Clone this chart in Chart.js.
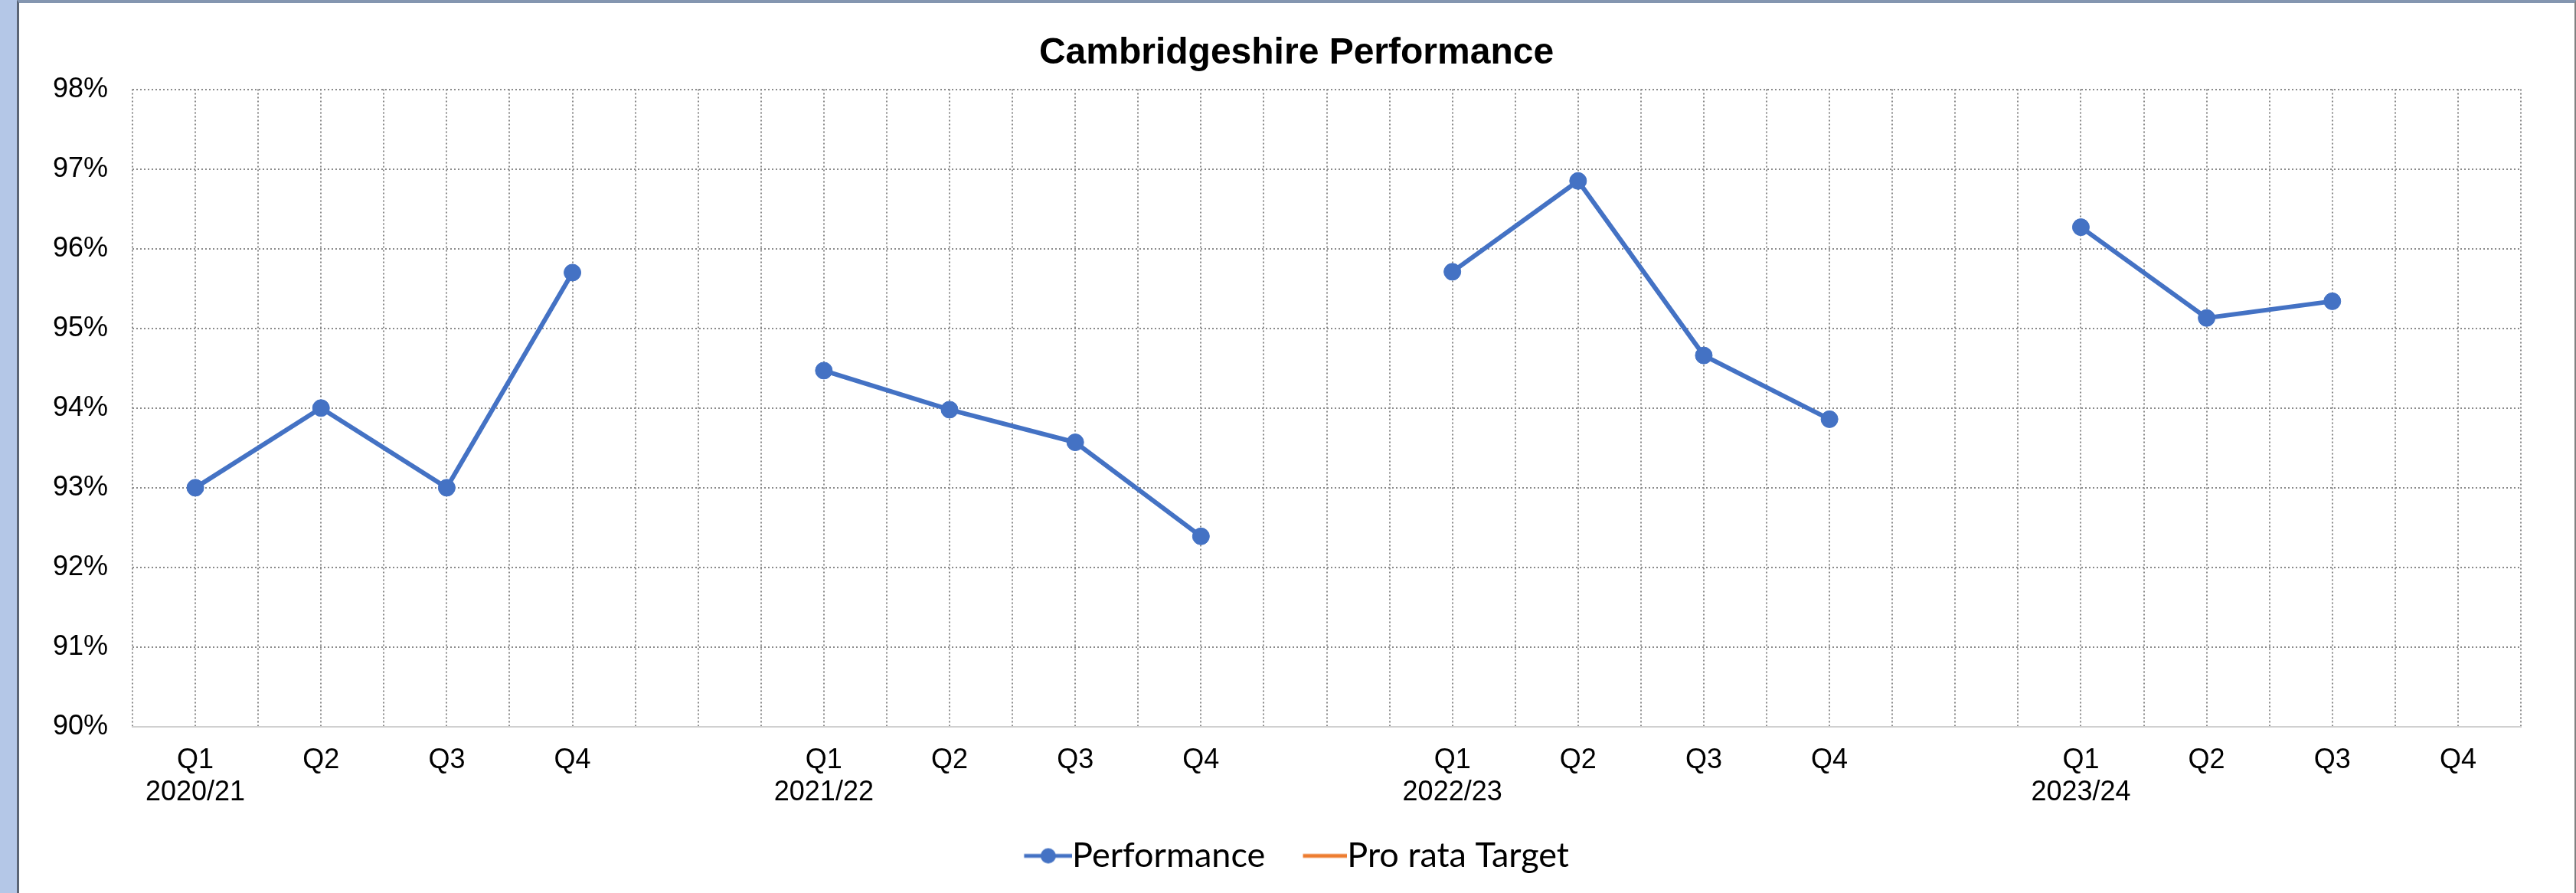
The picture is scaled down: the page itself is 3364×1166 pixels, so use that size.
<!DOCTYPE html>
<html>
<head>
<meta charset="utf-8">
<script src="https://cdn.jsdelivr.net/npm/chart.js@4.4.1/dist/chart.umd.min.js"></script>
<style>
  html, body { margin: 0; padding: 0; width: 3364px; height: 1166px; overflow: hidden; background: #fff; }
  #strip { position: absolute; left: 0; top: 0; width: 22px; height: 1166px; background: #b4c7e7; }
  #frame { position: absolute; left: 22px; top: 0; width: 3342px; height: 1166px; box-sizing: border-box;
           border-left: 3px solid #5b6575; border-top: 4px solid #8496b0; border-right: 2px solid #808080; }
  canvas { position: absolute; left: 0; top: 0; }
</style>
</head>
<body>
<div id="strip"></div>
<div id="frame"></div>
<canvas id="perf-chart" width="3364" height="1166" style="width:3364px;height:1166px"></canvas>
<script>
// quarter slots, a blank slot between financial years
const quarters = ["Q1", "Q2", "Q3", "Q4", "", "Q1", "Q2", "Q3", "Q4", "", "Q1", "Q2", "Q3", "Q4", "", "Q1", "Q2", "Q3", "Q4"];
const years = ["2020/21", "", "", "", "", "2021/22", "", "", "", "", "2022/23", "", "", "", "", "2023/24", "", "", ""];
const performance = [93.0, 94.0, 93.0, 95.7, null, 94.47, 93.98, 93.57, 92.39, null, 95.71, 96.85, 94.66, 93.86, null, 96.27, 95.13, 95.34, null];
const proRataTarget = [null, null, null, null, null, null, null, null, null, null, null, null, null, null, null, null, null, null, null];
const yMin = 90, yMax = 98, yStep = 1;

const blue = "#4472c4";
const orange = "#ed7d31";
const legendFontSize = 45;
const legendBox = 63 - legendFontSize / 2;

// legend icons, drawn in the right part so the text sits right after them
function makeIcon(iconW, color, dot) {
  const total = 2 * (63 - legendBox / 2);
  const c = document.createElement("canvas");
  c.width = total; c.height = 24;
  const g = c.getContext("2d");
  const x0 = total - iconW;
  g.strokeStyle = color;
  g.lineWidth = 5;
  g.beginPath(); g.moveTo(x0, 12); g.lineTo(total, 12); g.stroke();
  if (dot) {
    g.fillStyle = color;
    g.beginPath(); g.arc(x0 + iconW / 2, 12, 10, 0, Math.PI * 2); g.fill();
  }
  return c;
}
const legendIcons = [makeIcon(63, blue, true), makeIcon(58, orange, false)];

function toPoints(arr) {
  return arr.map((v, i) => ({ x: i, y: v }));
}

// let tick labels draw outside their own scale box
const unclipLabels = {
  id: "unclipLabels",
  afterLayout(chart) {
    chart.scales.y.left = 0;
    chart.scales.x.bottom = chart.height;
  }
};

const ctx = document.getElementById("perf-chart").getContext("2d");
new Chart(ctx, {
  type: "line",
  data: {
    datasets: [
      {
        label: "Performance",
        data: toPoints(performance),
        borderColor: blue,
        backgroundColor: blue,
        borderWidth: 6,
        pointRadius: 11,
        pointBorderWidth: 1,
        pointBackgroundColor: blue,
        pointBorderColor: blue,
        spanGaps: false
      },
      {
        label: "Pro rata Target",
        data: toPoints(proRataTarget),
        borderColor: orange,
        backgroundColor: orange,
        borderWidth: 5,
        pointRadius: 0
      }
    ]
  },
  plugins: [unclipLabels],
  options: {
    responsive: false,
    devicePixelRatio: 1,
    animation: false,
    layout: { padding: { left: 94, right: 72, top: 0, bottom: 16 } },
    plugins: {
      title: {
        display: true,
        text: "Cambridgeshire Performance",
        color: "#000",
        font: { family: "'Liberation Sans', Arial, sans-serif", size: 48, weight: "bold", lineHeight: 1.2 },
        padding: { top: 41, bottom: 18 }
      },
      legend: {
        position: "bottom",
        labels: {
          color: "#000",
          font: { family: "Lato, 'Open Sans', sans-serif", size: legendFontSize },
          usePointStyle: true,
          pointStyleWidth: legendBox,
          padding: 44,
          generateLabels(chart) {
            const items = Chart.defaults.plugins.legend.labels.generateLabels(chart);
            items.forEach((it, i) => { it.pointStyle = legendIcons[i]; });
            return items;
          }
        }
      },
      tooltip: { enabled: false }
    },
    scales: {
      x: {
        type: "linear",
        min: -0.5,
        max: quarters.length - 0.5,
        afterFit(scale) { scale.height = 102; },
        ticks: {
          stepSize: 0.5,
          autoSkip: false,
          maxRotation: 0,
          minRotation: 0,
          padding: 23,
          color: "#000",
          font: { family: "'Liberation Sans', Arial, sans-serif", size: 36, lineHeight: 1.17 },
          callback(value) {
            if (!Number.isInteger(value)) return "";
            const q = quarters[value];
            const y = years[value];
            return y ? [q, y] : q;
          }
        },
        grid: { color: "#8a8a8a", lineWidth: 2, drawTicks: false },
        border: { display: true, color: "#d0d0d0", width: 2, dash: [2, 3] }
      },
      y: {
        min: yMin,
        max: yMax,
        afterFit(scale) { scale.width = 79; },
        ticks: {
          stepSize: yStep,
          padding: 32,
          color: "#000",
          font: { family: "'Liberation Sans', Arial, sans-serif", size: 36 },
          callback(value) { return value + "%"; }
        },
        grid: {
          color(c) { return c.tick && c.tick.value === yMin ? "rgba(0,0,0,0)" : "#8a8a8a"; },
          lineWidth: 2,
          drawTicks: false
        },
        border: { display: false, dash: [2, 3] }
      }
    }
  }
});
</script>
</body>
</html>
